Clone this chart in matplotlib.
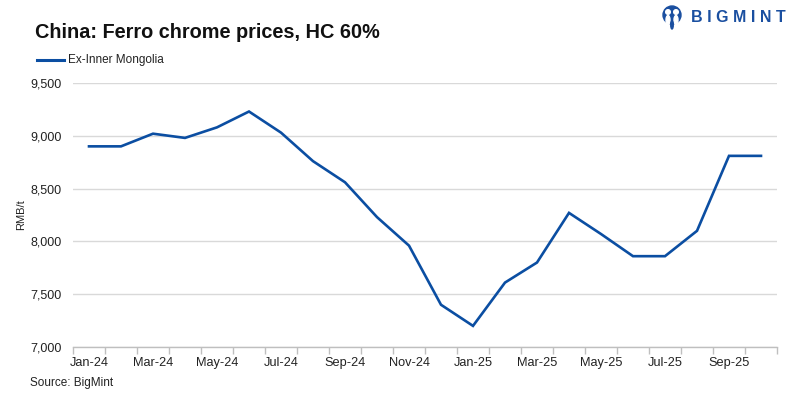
import matplotlib
matplotlib.use("Agg")
import matplotlib.pyplot as plt
from matplotlib.patches import Circle, Ellipse
import numpy as np

months = ["Jan-24", "Feb-24", "Mar-24", "Apr-24", "May-24", "Jun-24", "Jul-24", "Aug-24",
          "Sep-24", "Oct-24", "Nov-24", "Dec-24", "Jan-25", "Feb-25", "Mar-25", "Apr-25",
          "May-25", "Jun-25", "Jul-25", "Aug-25", "Sep-25", "Oct-25"]
prices = [8900, 8900, 9020, 8980, 9080, 9230, 9030, 8760, 8560, 8230, 7960, 7400,
          7200, 7610, 7800, 8270, 8070, 7860, 7860, 8100, 8810, 8810]
yticks = [7000, 7500, 8000, 8500, 9000, 9500]
series_name = "Ex-Inner Mongolia"

plt.rcParams['font.family'] = ['Liberation Sans', 'DejaVu Sans']
LINE = '#0B4EA2'
GRID = '#D9D9D9'
TXT = '#222222'

fig = plt.figure(figsize=(8, 3.99), dpi=100)
ax = fig.add_axes([73/800, 1-347/399, (777-73)/800, (347-83)/399])

x = np.arange(len(months))
ax.plot(x, prices, color=LINE, lw=1.9, solid_joinstyle='miter')

ax.set_xlim(-0.5, len(months)-0.5)
ax.set_ylim(7000, 9500)
ax.set_yticks(yticks)
ax.set_yticklabels([f"{v:,}" for v in yticks], fontsize=9, color=TXT)
ax.tick_params(axis='y', length=0, pad=8)
ax.yaxis.grid(True, color=GRID, lw=1)
ax.set_axisbelow(True)

# category boundary ticks
ax.set_xticks(np.arange(-0.5, len(months), 1.0))
ax.set_xticklabels([])
ax.tick_params(axis='x', which='major', length=5, color='#BFBFBF', width=1)
ax.set_xticks(x[::2], minor=True)
ax.set_xticklabels(months[::2], minor=True, fontsize=9.2, color=TXT)
ax.tick_params(axis='x', which='minor', length=0, pad=7)

for s in ['top', 'right', 'left']:
    ax.spines[s].set_visible(False)
ax.spines['bottom'].set_color('#BFBFBF')
ax.spines['bottom'].set_linewidth(1)

ax.set_ylabel("RMB/t", fontsize=8, color=TXT, labelpad=3)

# title
fig.text(35/800, 1-32/399, "China: Ferro chrome prices, HC 60%", fontsize=14.3,
         fontweight='bold', color='#111111', ha='left', va='center')

# legend
fig.add_artist(plt.Line2D([37/800, 64/800], [1-60/399, 1-60/399], color=LINE, lw=2.2))
fig.text(68/800, 1-60/399, series_name, fontsize=8.5, color=TXT, ha='left', va='center')

# source
fig.text(30/800, 1-383/399, "Source: BigMint", fontsize=8.5, color=TXT, ha='left', va='center')

# logo
LOGO = '#1A4FA0'
fig.text(691/800, 1-17/399, "B I G M I N T", fontsize=11.5, fontweight='bold',
         color=LOGO, ha='left', va='center')
lax = fig.add_axes([658/800, 1-30/399, 28/800, 26/399])
lax.set_xlim(0, 28)
lax.set_ylim(0, 26)
lax.set_aspect('equal')
lax.axis('off')
lax.add_patch(Circle((14, 15), 9, color=LOGO))
lax.add_patch(Circle((10, 18), 2.3, color='white'))
lax.add_patch(Circle((18, 18), 2.3, color='white'))
lax.add_patch(Ellipse((10, 10), 4, 9, color='white'))
lax.add_patch(Ellipse((18, 10), 4, 9, color='white'))
lax.add_patch(Ellipse((14, 5), 2.5, 8, color=LOGO))

fig.savefig("out.png", dpi=100)
